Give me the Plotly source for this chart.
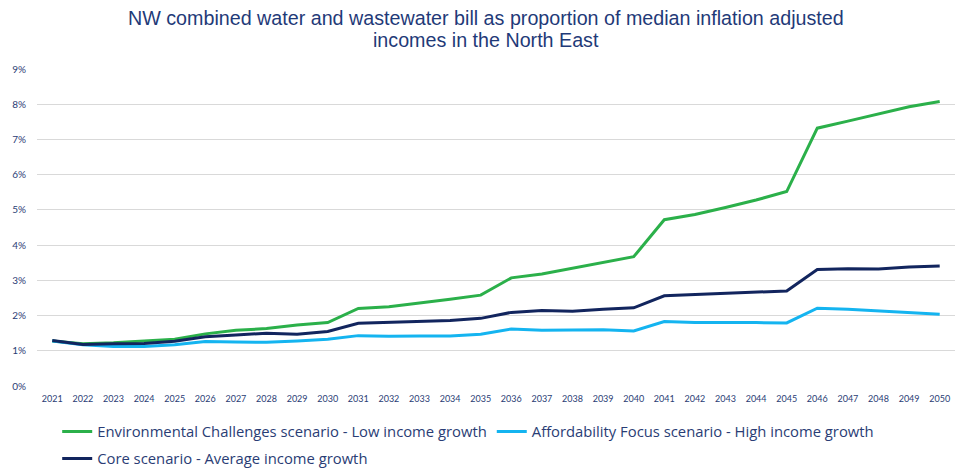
import plotly.graph_objects as go

years = [str(y) for y in range(2021, 2051)]

env_low = [1.28, 1.20, 1.23, 1.28, 1.33, 1.48, 1.58, 1.63, 1.73, 1.80,
           2.20, 2.25, 2.35, 2.46, 2.58, 3.07, 3.18, 3.35, 3.52, 3.67,
           4.72, 4.87, 5.07, 5.28, 5.52, 7.32, 7.52, 7.73, 7.93, 8.08]
afford_high = [1.28, 1.17, 1.12, 1.12, 1.17, 1.26, 1.25, 1.24, 1.28, 1.33,
               1.43, 1.41, 1.42, 1.42, 1.47, 1.62, 1.58, 1.58, 1.60, 1.56,
               1.83, 1.80, 1.81, 1.80, 1.79, 2.21, 2.18, 2.14, 2.09, 2.04]
core_avg = [1.29, 1.18, 1.20, 1.21, 1.27, 1.40, 1.45, 1.50, 1.47, 1.55,
            1.78, 1.80, 1.84, 1.86, 1.92, 2.09, 2.14, 2.12, 2.18, 2.22,
            2.56, 2.59, 2.62, 2.65, 2.70, 3.31, 3.33, 3.32, 3.38, 3.41]

y_ticks = [0, 1, 2, 3, 4, 5, 6, 7, 8, 9]
y_tick_labels = ["0%", "1%", "2%", "3%", "4%", "5%", "6%", "7%", "8%", "9%"]

title_lines = ["NW combined water and wastewater bill as proportion of median inflation adjusted",
               "incomes in the North East"]

names = ["Environmental Challenges scenario - Low income growth",
         "Affordability Focus scenario - High income growth",
         "Core scenario - Average income growth"]
colors = ["#2BB04A", "#14B4F0", "#12255E"]
legend_ids = ["legend", "legend", "legend2"]

fig = go.Figure()
for name, vals, col, lg in zip(names, [env_low, afford_high, core_avg], colors, legend_ids):
    fig.add_trace(go.Scatter(x=years, y=vals, mode="lines", name=name,
                             line=dict(color=col, width=3), legend=lg))

navy = "#2A3D75"
legend_font = dict(family="Open Sans, Lato", size=14.8, color=navy)
title_font = dict(family="Liberation Sans, Arial", size=19.7, color="#1F3A78")
plot_top, plot_h = 69, 317

fig.update_layout(
    width=957, height=470,
    paper_bgcolor="white", plot_bgcolor="white",
    margin=dict(l=37, r=2, t=plot_top, b=84, autoexpand=False),
    annotations=[
        dict(text=title_lines[0], xref="paper", yref="paper",
             x=(486 - 37) / 918, y=(plot_top + plot_h - 18) / plot_h,
             xanchor="center", yanchor="middle", showarrow=False, font=title_font),
        dict(text=title_lines[1], xref="paper", yref="paper",
             x=(486 - 37) / 918, y=(plot_top + plot_h - 40) / plot_h,
             xanchor="center", yanchor="middle", showarrow=False, font=title_font),
    ],
    xaxis=dict(type="category", range=[-0.5, 29.5], showgrid=False, showline=False,
               zeroline=False, ticks="", tickangle=0, automargin=False,
               ticklabelstandoff=6,
               tickfont=dict(family="Lato, Liberation Sans", size=9, color=navy)),
    yaxis=dict(range=[0, 9], tickvals=y_ticks, ticktext=y_tick_labels,
               showgrid=True, gridcolor="#D9D9D9", gridwidth=1, automargin=False,
               zeroline=False, showline=False, ticks="", ticklabelstandoff=10,
               tickfont=dict(family="Lato, Liberation Sans", size=10, color=navy)),
    legend=dict(orientation="h", x=0.022, xanchor="left", y=(386 - 432) / 317, yanchor="middle",
                font=legend_font, itemwidth=30, bgcolor="rgba(0,0,0,0)"),
    legend2=dict(orientation="h", x=0.022, xanchor="left", y=(386 - 459) / 317, yanchor="middle",
                 font=legend_font, itemwidth=30, bgcolor="rgba(0,0,0,0)"),
    showlegend=True,
)

fig.write_html("out.html", config={"displayModeBar": False},
               post_script="document.body.style.margin='0';")
